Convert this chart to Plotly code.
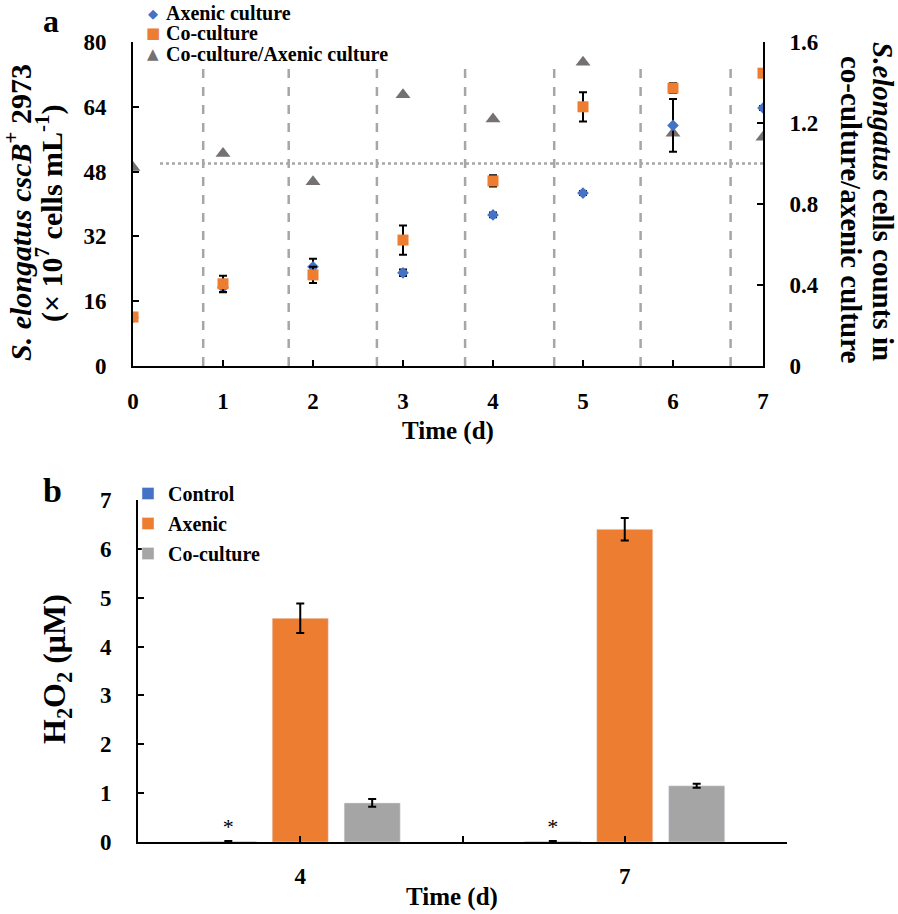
import plotly.graph_objects as go

# ---------------- data: panel a ----------------
days = [0, 1, 2, 3, 4, 5, 6, 7]
axenic_counts = [12.0, 19.4, 24.5, 23.0, 37.3, 42.7, 59.4, 63.7]
axenic_err = [0.5, 1.2, 2.0, 0.8, 0.6, 0.5, 6.5, 0.5]
coculture_counts = [12.1, 20.3, 22.5, 31.1, 45.7, 64.0, 68.6, 72.3]
coculture_err = [0.5, 2.0, 2.0, 3.6, 1.4, 3.6, 1.2, 0.5]
ratio = [0.98, 1.05, 0.91, 1.34, 1.22, 1.50, 1.15, 1.13]
ratio_reference = 1.0
separator_days = [0.78, 1.73, 2.71, 3.69, 4.68, 5.64, 6.64]
count_ticks = [0, 16, 32, 48, 64, 80]
ratio_ticks = [0, 0.4, 0.8, 1.2, 1.6]
series_names = ["Axenic culture", "Co-culture", "Co-culture/Axenic culture"]

# ---------------- data: panel b ----------------
h2o2_days = ["4", "7"]
control_h2o2 = [0.01, 0.01]
control_err = [0.01, 0.01]
axenic_h2o2 = [4.58, 6.40]
axenic_h2o2_err = [0.30, 0.23]
coculture_h2o2 = [0.80, 1.15]
coculture_h2o2_err = [0.08, 0.04]
h2o2_ticks = [0, 1, 2, 3, 4, 5, 6, 7]

W, H = 898, 914
FONT = "Liberation Serif"
BLUE, ORANGE, GRAY, DARKGRAY = "#4472C4", "#ED7D31", "#A5A5A5", "#767171"


def fx(p):
    return p / W


def fy(p):
    return 1 - p / H


fig = go.Figure()

# ratio (base axis, right side)
fig.add_trace(go.Scatter(
    x=days, y=ratio, mode="markers", name=series_names[2],
    marker=dict(symbol="triangle-up", size=13, color=DARKGRAY),
    xaxis="x", yaxis="y", showlegend=False))

err_style = dict(type="data", color="black", thickness=2, width=4)
fig.add_trace(go.Scatter(
    x=days, y=axenic_counts, mode="markers", name=series_names[0],
    marker=dict(symbol="diamond", size=9, color=BLUE),
    error_y=dict(array=axenic_err, **err_style),
    xaxis="x", yaxis="y2", showlegend=False))
fig.add_trace(go.Scatter(
    x=days, y=coculture_counts, mode="markers", name=series_names[1],
    marker=dict(symbol="square", size=11, color=ORANGE),
    error_y=dict(array=coculture_err, **err_style),
    xaxis="x", yaxis="y2", showlegend=False))

# panel b bars
cat_idx = list(range(len(h2o2_days)))
bar_err = dict(type="data", color="black", thickness=2, width=4)
fig.add_trace(go.Bar(
    x=cat_idx, y=control_h2o2, name="Control", marker_color=BLUE,
    error_y=dict(array=control_err, **bar_err),
    text=["*"] * len(cat_idx), textposition="outside", cliponaxis=False,
    textfont=dict(family=FONT, size=22, color="black"),
    xaxis="x2", yaxis="y3", legend="legend2", legendgroup="c"))
fig.add_trace(go.Bar(
    x=cat_idx, y=axenic_h2o2, name="Axenic", marker_color=ORANGE,
    error_y=dict(array=axenic_h2o2_err, **bar_err),
    xaxis="x2", yaxis="y3", legend="legend2", legendgroup="a"))
fig.add_trace(go.Bar(
    x=cat_idx, y=coculture_h2o2, name="Co-culture", marker_color=GRAY,
    error_y=dict(array=coculture_h2o2_err, **bar_err),
    xaxis="x2", yaxis="y3", legend="legend2", legendgroup="g"))

tickfont = dict(family=FONT, size=23, color="black", weight="bold")
axis_common = dict(showline=True, linecolor="black", linewidth=2, ticks="inside",
                   ticklen=6, tickwidth=2, tickcolor="black", showgrid=False,
                   zeroline=False, tickfont=tickfont, layer="above traces",
                   automargin=False)

shapes = []
for d in separator_days:
    shapes.append(dict(type="line", xref="x", yref="y2", x0=d, x1=d, y0=0, y1=75.5,
                       line=dict(color="#A6A6A6", width=2.5, dash="dash"), layer="below"))
shapes.append(dict(type="line", xref="x", yref="y", x0=0.3, x1=7, y0=ratio_reference,
                   y1=ratio_reference, line=dict(color="#A6A6A6", width=2.5, dash="dot"),
                   layer="below"))


def ann(text, x, y, size, angle=0, xanchor="center", color="black", family=FONT):
    return dict(text=text, x=fx(x), y=fy(y), xref="paper", yref="paper", showarrow=False,
                textangle=angle, xanchor=xanchor, yanchor="middle",
                font=dict(family=family, size=size, color=color))


annotations = [
    ann("<b>a</b>", 51, 21, 32),
    ann("<b>b</b>", 52, 490, 34),
    ann("<b><i>S. elongatus cscB</i><sup>+</sup> 2973</b>", 18, 213, 30, angle=-90),
    ann("<b>(× 10<sup>7</sup> cells mL<sup>-1</sup>)</b>", 49, 213, 30, angle=-90),
    ann("<b><i>S.elongatus</i> cells counts in</b>", 883, 201, 29, angle=90),
    ann("<b>co-culture/axenic culture</b>", 851, 210, 29, angle=90),
    ann("<b>Time (d)</b>", 448, 431, 25),
    ann("<b>H<sub>2</sub>O<sub>2</sub> (μM)</b>", 56, 669, 32, angle=-90),
    ann("<b>Time (d)</b>", 452, 897, 25),
]

# legend for panel a (text + symbol glyphs)
legend_rows_y = [13, 33, 54]
legend_glyphs = [("◆", BLUE, 13), ("■", ORANGE, 15), ("▲", DARKGRAY, 15)]
for (g, c, s), name, yy in zip(legend_glyphs, series_names, legend_rows_y):
    annotations.append(ann(g, 153, yy, s, color=c, family="DejaVu Sans"))
    annotations.append(ann("<b>" + name + "</b>", 164, yy, 20, xanchor="left"))

legend_font = dict(family=FONT, size=20, color="black", weight="bold")

fig.update_layout(
    width=W, height=H, margin=dict(l=0, r=0, t=0, b=0, autoexpand=False),
    paper_bgcolor="white", plot_bgcolor="rgba(0,0,0,0)",
    font=dict(family=FONT, color="black"),
    barmode="group", bargap=0.335, bargroupgap=0.22,
    xaxis=dict(domain=[fx(133), fx(763)], range=[0, 7], tickvals=days, anchor="y",
               ticklabelstandoff=13, **axis_common),
    yaxis=dict(domain=[fy(366), fy(42)], range=[0, 1.6], tickvals=ratio_ticks,
               side="right", anchor="x", ticklabelstandoff=20, **axis_common),
    yaxis2=dict(range=[0, 80], tickvals=count_ticks, side="left", overlaying="y",
                anchor="x", ticklabelstandoff=20, **axis_common),
    xaxis2=dict(domain=[fx(138), fx(787)], range=[-0.5, len(h2o2_days) - 0.5],
                tickvals=[-0.5, 0, 0.5, 1, 1.5], ticktext=["", h2o2_days[0], "", h2o2_days[1], ""],
                anchor="y3", ticklabelstandoff=12, **axis_common),
    yaxis3=dict(domain=[fy(842), fy(500)], range=[0, 7], tickvals=h2o2_ticks,
                anchor="x2", ticklabelstandoff=20, **axis_common),
    legend2=dict(x=fx(128), y=fy(474), xanchor="left", yanchor="top", font=legend_font,
                 bgcolor="rgba(0,0,0,0)", tracegroupgap=1, itemwidth=30),
    shapes=shapes, annotations=annotations, showlegend=True,
)

fig.write_html("out.html", config={"displayModeBar": False},
               post_script="document.body.style.margin='0';")
